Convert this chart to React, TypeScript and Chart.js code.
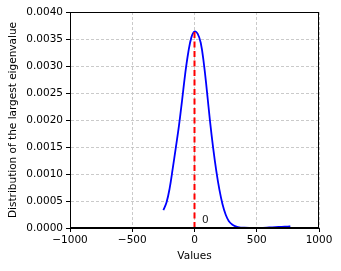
import React, { useEffect, useRef } from "react";
import { Chart, registerables } from "chart.js";

Chart.register(...registerables);

const xValues = [-250, -225, -200, -175, -150, -125, -100, -75, -50, -25, 0, 25, 50, 75, 100, 125, 150, 175, 200, 225, 250, 275, 300, 325, 350, 400, 450, 500, 550, 600, 650, 700, 750, 770];
const densityValues = [0.00033, 0.00047, 0.00073, 0.00110, 0.00149, 0.00189, 0.00236, 0.00285, 0.00325, 0.00353, 0.00364, 0.00360, 0.00343, 0.00305, 0.00253, 0.00197, 0.00148, 0.00106, 0.00071, 0.00044, 0.00025, 0.00013, 0.00007, 0.000035, 0.000018, 0.000005, 0.000001, 0.000001, 0.000004, 0.00001, 0.000016, 0.000022, 0.000027, 0.00003];
const markerX = [0, 0];
const markerY = [0, 0.003635];
const annotationText = "0";
const annotationX = 60;
const annotationY = 0.00005;
const xTicks = [-1000, -500, 0, 500, 1000];
const yTicks = [0, 0.0005, 0.001, 0.0015, 0.002, 0.0025, 0.003, 0.0035, 0.004];

const FONT = "'DejaVu Sans', sans-serif";

export default function App() {
  const ref = useRef<HTMLCanvasElement | null>(null);
  useEffect(() => {
    if (!ref.current) return;
    const boxPlugin = {
      id: "boxAndText",
      afterDraw(chart: any) {
        const { ctx, chartArea, scales } = chart;
        ctx.save();
        ctx.setLineDash([]);
        ctx.strokeStyle = "#000";
        ctx.lineWidth = 1;
        ctx.strokeRect(chartArea.left + 0.5, chartArea.top + 0.5, chartArea.right - chartArea.left - 1, chartArea.bottom - chartArea.top - 1);
        ctx.fillStyle = "#222";
        ctx.font = `10.5px ${FONT}`;
        ctx.textAlign = "left";
        ctx.textBaseline = "bottom";
        ctx.fillText(annotationText, scales.x.getPixelForValue(annotationX), scales.y.getPixelForValue(annotationY));
        ctx.restore();
      },
    };
    const chart = new Chart(ref.current, {
      type: "line",
      data: {
        datasets: [
          {
            data: markerX.map((x, i) => ({ x, y: markerY[i] })),
            borderColor: "#ff0000",
            borderWidth: 2,
            borderDash: [6, 3.5],
            pointRadius: 0,
            fill: false,
          },
          {
            data: xValues.map((x, i) => ({ x, y: densityValues[i] })),
            borderColor: "#0000ff",
            borderWidth: 1.8,
            pointRadius: 0,
            tension: 0.4,
            fill: false,
          },
        ],
      },
      options: {
        animation: false,
        responsive: false,
        layout: { padding: { left: 0, top: 12, right: 22, bottom: 0 } },
        plugins: { legend: { display: false }, tooltip: { enabled: false } },
        scales: {
          x: {
            type: "linear",
            min: -1000,
            max: 1000,
            afterBuildTicks: (s: any) => { s.ticks = xTicks.map((v) => ({ value: v })); },
            afterFit: (s: any) => { s.height = 43; },
            ticks: {
              color: "#000",
              font: { family: FONT, size: 10.5 },
              padding: 2,
              maxRotation: 0,
              callback: (v: any) => (v < 0 ? "\u2212" + Math.abs(v) : String(v)),
            },
            grid: { color: "#c4c4c4", lineWidth: 0.9, tickLength: 4, tickColor: "#000", tickBorderDash: [], tickWidth: 1 },
            border: { display: true, color: "#000", dash: [3, 2] },
            title: { display: true, text: "Values", color: "#000", font: { family: FONT, size: 10.5 }, padding: { top: 0, bottom: 8 } },
          },
          y: {
            type: "linear",
            min: 0,
            max: 0.004,
            afterBuildTicks: (s: any) => { s.ticks = yTicks.map((v) => ({ value: v })); },
            afterFit: (s: any) => { s.width = 70; },
            ticks: {
              color: "#000",
              font: { family: FONT, size: 10.5 },
              padding: 3,
              callback: (v: any) => Number(v).toFixed(4),
            },
            grid: { color: "#c4c4c4", lineWidth: 0.9, tickLength: 4, tickColor: "#000", tickBorderDash: [], tickWidth: 1 },
            border: { display: true, color: "#000", dash: [3, 2] },
            title: { display: true, text: "Distribution of the largest eigenvalue", color: "#000", font: { family: FONT, size: 10.5 }, padding: { top: 7, bottom: 0 } },
          },
        },
      },
      plugins: [boxPlugin],
    } as any);
    return () => chart.destroy();
  }, []);
  return (
    <div style={{ position: "fixed", left: 0, top: 0, width: 341, height: 271, background: "#fff" }}>
      <canvas ref={ref} width={341} height={271} />
    </div>
  );
}
